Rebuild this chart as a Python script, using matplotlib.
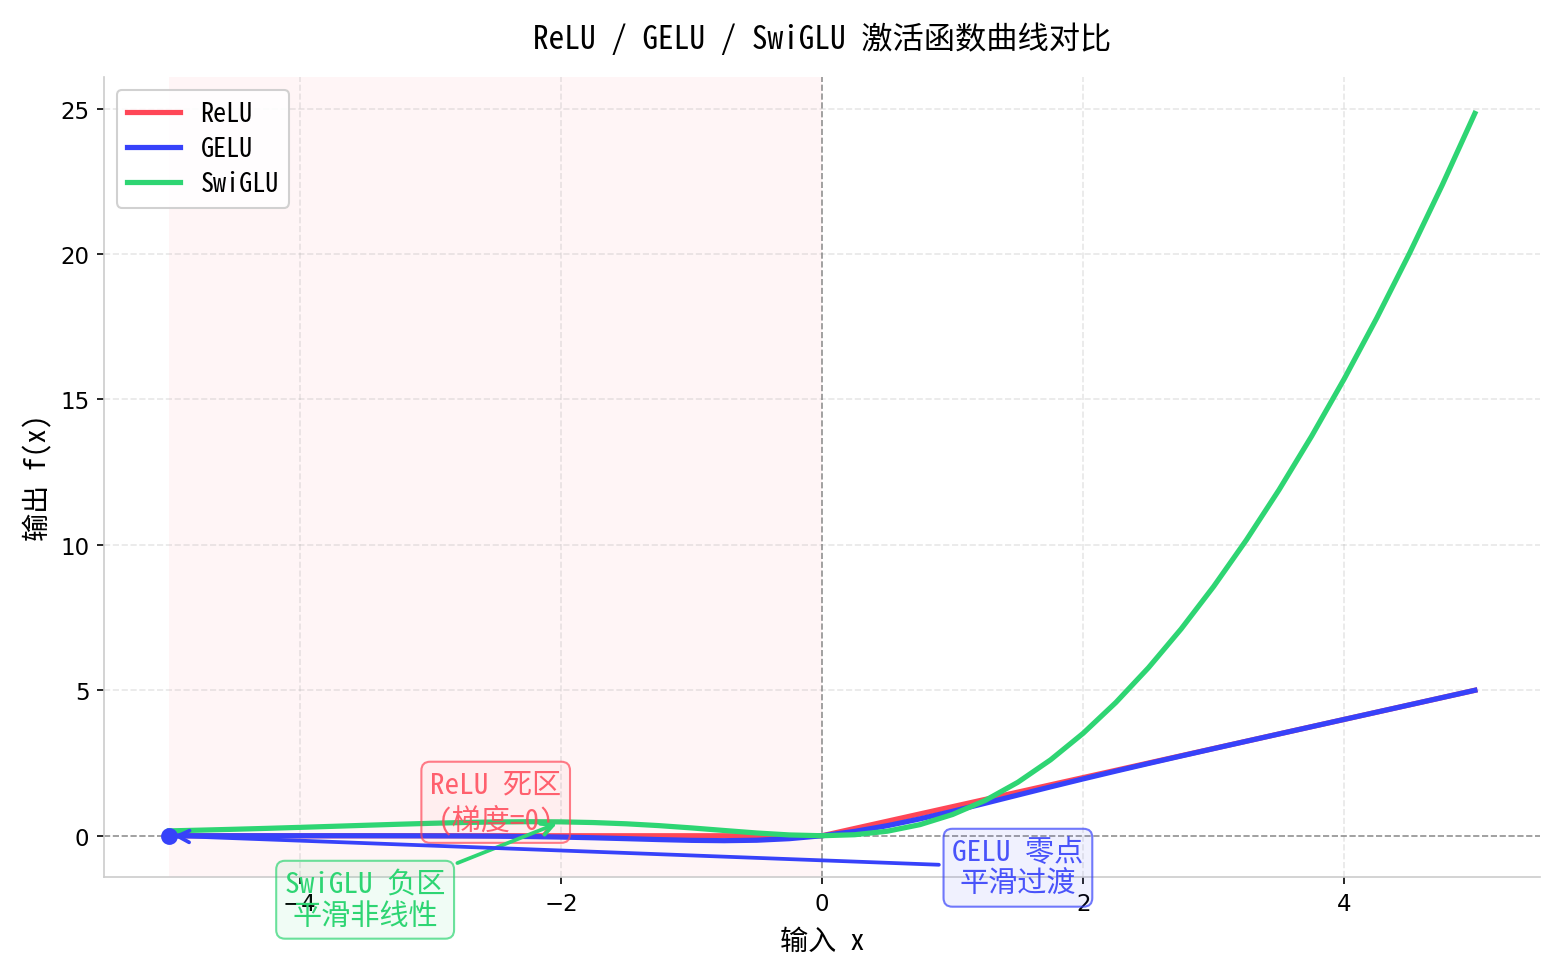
import matplotlib
matplotlib.use("Agg")
import matplotlib.pyplot as plt
from matplotlib.colors import to_rgba

plt.rcParams['font.family'] = ['Noto Sans Mono CJK SC', 'Noto Sans CJK SC', 'DejaVu Sans']
plt.rcParams['axes.unicode_minus'] = True

x_vals = [-5.0, -4.75, -4.5, -4.25, -4.0, -3.75, -3.5, -3.25, -3.0, -2.75, -2.5, -2.25,
          -2.0, -1.75, -1.5, -1.25, -1.0, -0.75, -0.5, -0.25, 0.0, 0.25, 0.5, 0.75,
          1.0, 1.25, 1.5, 1.75, 2.0, 2.25, 2.5, 2.75, 3.0, 3.25, 3.5, 3.75,
          4.0, 4.25, 4.5, 4.75, 5.0]
relu_vals = [0, 0, 0, 0, 0, 0, 0, 0, 0, 0, 0, 0,
             0, 0, 0, 0, 0, 0, 0, 0, 0, 0.25, 0.5, 0.75,
             1.0, 1.25, 1.5, 1.75, 2.0, 2.25, 2.5, 2.75, 3.0, 3.25, 3.5, 3.75,
             4.0, 4.25, 4.5, 4.75, 5.0]
gelu_vals = [0.0, 0.0, -0.00002, -0.00005, -0.00013, -0.00033, -0.0008, -0.0019, -0.004, -0.0082, -0.0155, -0.0275,
             -0.0455, -0.0701, -0.1002, -0.1321, -0.1587, -0.17, -0.1543, -0.1003, 0.0, 0.1497, 0.3457, 0.58,
             0.8413, 1.1179, 1.3998, 1.6799, 1.9545, 2.2225, 2.4845, 2.7418, 2.996, 3.2481, 3.4992, 3.7497,
             3.9999, 4.25, 4.5, 4.75, 5.0]
swiglu_vals = [0.1673, 0.1935, 0.2225, 0.254, 0.2878, 0.3231, 0.3591, 0.3943, 0.4268, 0.4544, 0.4741, 0.4827,
               0.4768, 0.4534, 0.4105, 0.348, 0.2689, 0.1805, 0.0944, 0.0274, 0.0, 0.0351, 0.1556, 0.382,
               0.7311, 1.2145, 1.8395, 2.6091, 3.5232, 4.5798, 5.7759, 7.1081, 8.5732, 10.1683, 11.8909, 13.7394,
               15.7122, 17.8085, 20.0275, 22.369, 24.8327]

series_names = ['ReLU', 'GELU', 'SwiGLU']
colors = ['#ff4757', '#3742fa', '#2ed573']

title_text = 'ReLU / GELU / SwiGLU 激活函数曲线对比'
xlabel_text = '输入 x'
ylabel_text = '输出 f(x)'

relu_note = 'ReLU 死区\n(梯度=0)'
relu_note_pos = (-2.5, 1.15)
swiglu_note = 'SwiGLU 负区\n平滑非线性'
swiglu_note_pos = (-3.5, -2.2)
swiglu_note_target = (-2.0, 0.4768)
gelu_note = 'GELU 零点\n平滑过渡'
gelu_note_pos = (1.5, -1.1)
gelu_note_target = (-5.0, 0.0)

fig = plt.figure(figsize=(1562 / 150, 978 / 150), dpi=150)
ax = fig.add_axes([0.0666, 0.1022, 0.9194, 0.818])

ax.axvspan(-5, 0, color=colors[0], alpha=0.05, lw=0)
ax.axhline(0, color='gray', ls='--', lw=0.8, alpha=0.8)
ax.axvline(0, color='gray', ls='--', lw=0.8, alpha=0.8)

for vals, name, c in zip([relu_vals, gelu_vals, swiglu_vals], series_names, colors):
    ax.plot(x_vals, vals, color=c, lw=2.5, label=name)

ax.scatter([gelu_note_target[0]], [gelu_note_target[1]], color=colors[1], s=50, zorder=5)

def box(c, fa=0.07):
    return dict(boxstyle='round,pad=0.3', fc=to_rgba(c, fa), ec=to_rgba(c, 0.7), lw=1.0)

ax.annotate(relu_note, xy=relu_note_pos, xytext=relu_note_pos, ha='center', va='center',
            fontsize=14, color=colors[0], alpha=0.85, bbox=box(colors[0], 0.04))
ax.annotate(swiglu_note, xy=swiglu_note_target, xytext=swiglu_note_pos, ha='center', va='center',
            fontsize=14, color=colors[2], bbox=box(colors[2]),
            arrowprops=dict(arrowstyle='->', color=colors[2], lw=1.8))
ax.annotate(gelu_note, xy=gelu_note_target, xytext=gelu_note_pos, ha='center', va='center',
            fontsize=14, color=colors[1], alpha=0.9, bbox=box(colors[1]),
            arrowprops=dict(arrowstyle='->', color=colors[1], lw=1.8))

ax.grid(True, ls='--', alpha=0.3)
for s in ['top', 'right']:
    ax.spines[s].set_visible(False)
for s in ['left', 'bottom']:
    ax.spines[s].set_color('#cccccc')
ax.tick_params(labelsize=11)
for lab in ax.get_xticklabels() + ax.get_yticklabels():
    lab.set_family('DejaVu Sans')

ax.set_title(title_text, fontsize=15, pad=14)
ax.set_xlabel(xlabel_text, fontsize=13.5, labelpad=6)
ax.set_ylabel(ylabel_text, fontsize=13.5)
ax.legend(loc='upper left', fontsize=12.5, framealpha=0.9, labelspacing=0.3)

fig.savefig('out.png', dpi=150)
